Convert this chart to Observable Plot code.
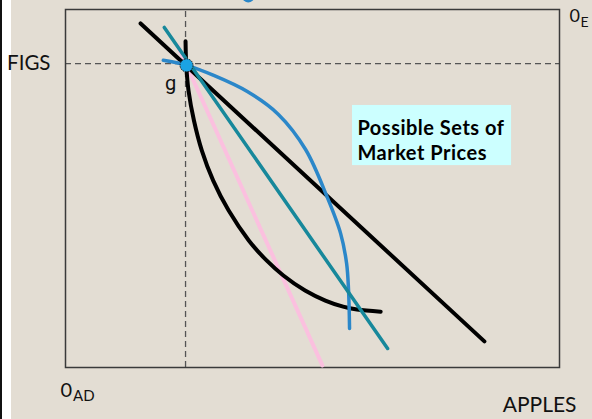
<!DOCTYPE html>
<html>
<head>
<meta charset="utf-8">
<script src="https://cdn.jsdelivr.net/npm/d3@7"></script>
<script src="https://cdn.jsdelivr.net/npm/@observablehq/plot@0.6"></script>
<style>
  html, body { margin: 0; padding: 0; width: 592px; height: 419px; overflow: hidden; }
  body { background: linear-gradient(to right, #111 0px, #111 2px, #ffffff 2px, #ffffff 11px, #E3DDD3 11px); font-family: Lato, sans-serif; }
</style>
</head>
<body>
<div id="chart"></div>
<script>
// Chart values (apples on x, figs on y, box spans 0..100 on each axis)
const blackLine = [[15.2, 96.1], [84.8, 7.3]];
const tealLine = [[20.0, 95.0], [65.2, 5.3]];
const pinkLine = [[22.7, 89.9], [52.0, 0.6]];
const blackCurve = [
  [24.3, 91.1], [24.45, 84.4], [24.9, 77.4], [26.0, 69.0], [27.6, 60.6],
  [29.9, 52.2], [33.0, 43.9], [37.1, 35.5], [40.7, 29.9], [44.1, 25.7],
  [48.5, 21.5], [52.6, 18.7], [56.2, 17.0], [59.0, 16.2], [63.8, 15.6]
];
const blueCurve = [
  [19.8, 85.8], [24.5, 84.4], [30.0, 81.6], [36.8, 77.1], [43.1, 70.7],
  [48.6, 60.9], [53.0, 47.5], [55.7, 37.4], [56.9, 29.1], [57.3, 21.5],
  [57.5, 10.9]
];
const gPoint = [{x: 24.5, y: 84.4}];
const guideX = [24.3];
const guideY = [84.9];
const axisLabels = ["FIGS", "APPLES"];
const originAD = ["0", "AD"];
const originE = ["0", "E"];
const pointLabel = ["g"];
const boxText = ["Possible Sets of\nMarket Prices"];
const boxRect = [{x1: 58.1, x2: 90.3, y1: 56.4, y2: 73.2}];
const boxTextPos = [{x: 59.1, y: 70.0}];
const titleBullet = [{x: 37.0, y: 103.6}];

const F = "Lato, sans-serif";
const line = (data, stroke, w, curve = "linear") => Plot.line(data, {x: d => d[0], y: d => d[1], stroke, strokeWidth: w, curve, strokeLinecap: "round"});

const chart = Plot.plot({
  width: 592,
  height: 419,
  marginLeft: 65,
  marginRight: 33,
  marginTop: 9,
  marginBottom: 52,
  style: {background: "transparent", overflow: "visible", fontFamily: F},
  x: {domain: [0, 100], axis: null},
  y: {domain: [0, 100], axis: null},
  marks: [
    Plot.ruleX(guideX, {y1: 0, y2: 100, stroke: "#555", strokeWidth: 1.3, strokeDasharray: "6,4"}),
    Plot.ruleY(guideY, {x1: 0, x2: 100, stroke: "#555", strokeWidth: 1.3, strokeDasharray: "6,4"}),
    Plot.frame({stroke: "#3a3a3a", strokeWidth: 1.5}),
    Plot.rect(boxRect, {x1: "x1", x2: "x2", y1: "y1", y2: "y2", fill: "#CCFFFF"}),
    Plot.text(boxText, {x: () => boxTextPos[0].x, y: () => boxTextPos[0].y, text: d => d, textAnchor: "start", lineAnchor: "top", fontSize: 20, fontWeight: "bold", lineHeight: 1.25, fill: "#000", fontFamily: F}),
    line(pinkLine, "#FBC0DF", 4),
    line(blackCurve, "#000", 4, "catmull-rom"),
    line(blackLine, "#000", 4),
    line(blueCurve, "#2B87C9", 3.5, "catmull-rom"),
    line(tealLine, "#17889B", 3.5),
    Plot.dot(gPoint, {x: "x", y: "y", r: 6.5, fill: "#1BA3E4", stroke: "#1a1a1a", strokeWidth: 1, strokeDasharray: "1.5,1"}),
    Plot.dot(titleBullet, {x: "x", y: "y", r: 6, fill: "#2B87C9"}),
    // Axis labels
    Plot.text([axisLabels[0]], {x: 0, y: guideY[0], text: d => d, textAnchor: "end", dx: -15, fontSize: 20.5, fill: "#111", fontFamily: F}),
    Plot.text([axisLabels[1]], {x: 100, y: 0, text: d => d, textAnchor: "end", dx: 17, dy: 38, fontSize: 21, fill: "#111", fontFamily: F}),
    Plot.text(pointLabel, {x: 21.3, y: 79.4, text: d => d, textAnchor: "middle", fontSize: 20, fill: "#111", fontFamily: "Roboto, sans-serif"}),
    Plot.text([originAD[0]], {x: 0, y: 0, text: d => d, textAnchor: "start", dx: -5, dy: 23, fontSize: 20, fill: "#111", fontFamily: F}),
    Plot.text([originAD[1]], {x: 0, y: 0, text: d => d, textAnchor: "start", dx: 7.5, dy: 28.6, fontSize: 15, fill: "#111", fontFamily: F}),
    Plot.text([originE[0]], {x: 100, y: 100, text: d => d, textAnchor: "start", dx: 10, dy: 6.6, fontSize: 18, fill: "#111", fontFamily: F}),
    Plot.text([originE[1]], {x: 100, y: 100, text: d => d, textAnchor: "start", dx: 21, dy: 12.9, fontSize: 14, fill: "#111", fontFamily: F})
  ]
});
d3.select(chart).selectAll("text")
  .filter(function() { return this.textContent.startsWith("Possible"); })
  .style("letter-spacing", "0.5px");
document.getElementById("chart").appendChild(chart);
</script>
</body>
</html>
